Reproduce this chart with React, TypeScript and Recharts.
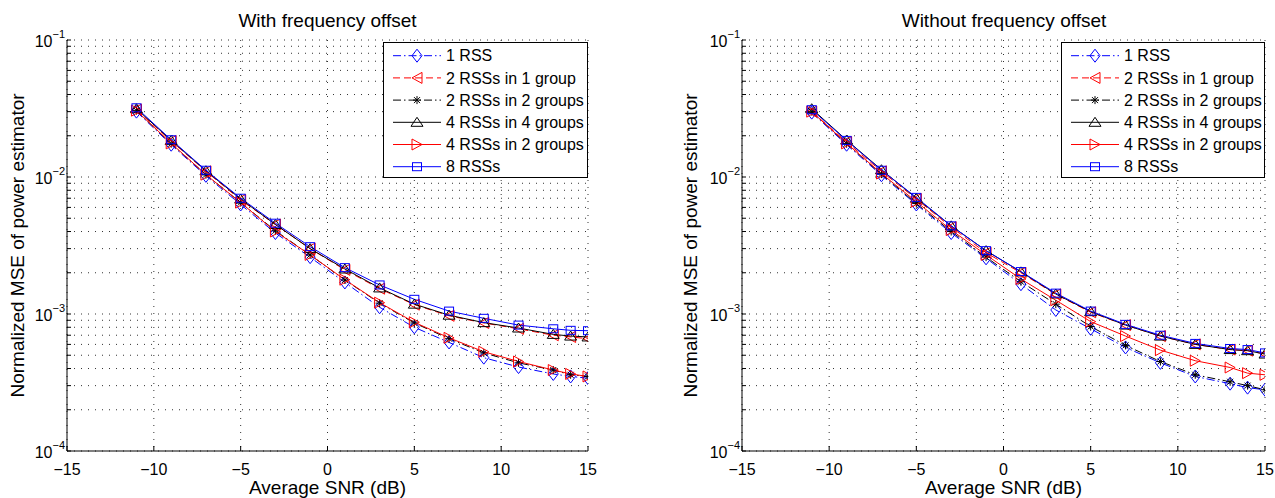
import React from 'react';
import { LineChart, Line, XAxis, YAxis, CartesianGrid, Legend } from 'recharts';

// ---------- data ----------
const snrDb = [-11, -9, -7, -5, -3, -1, 1, 3, 5, 7, 9, 11, 13, 14, 15];

const xTicks = [-15, -10, -5, 0, 5, 10, 15];
const yTicks = [
  0.0001, 0.0002, 0.0003, 0.0004, 0.0005, 0.0006, 0.0007, 0.0008, 0.0009,
  0.001, 0.002, 0.003, 0.004, 0.005, 0.006, 0.007, 0.008, 0.009,
  0.01, 0.02, 0.03, 0.04, 0.05, 0.06, 0.07, 0.08, 0.09,
  0.1,
];
const yMajor = [0.0001, 0.001, 0.01, 0.1];

const seriesLabels = [
  '1 RSS',
  '2 RSSs in 1 group',
  '2 RSSs in 2 groups',
  '4 RSSs in 4 groups',
  '4 RSSs in 2 groups',
  '8 RSSs',
];
const seriesKeys = ['oneRss', 'twoIn1', 'twoIn2', 'fourIn4', 'fourIn2', 'eight'];

// With frequency offset
const withOneRss = [0.0300, 0.0172, 0.0102, 0.0063, 0.0039, 0.0026, 0.00170, 0.00112, 0.00080, 0.00062, 0.00048, 0.00041, 0.000365, 0.00035, 0.00034];
const withTwoIn1 = [0.0310, 0.0183, 0.0110, 0.0068, 0.0045, 0.0030, 0.00210, 0.00153, 0.00117, 0.00097, 0.00086, 0.00078, 0.00070, 0.00068, 0.00066];
const withTwoIn2 = [0.0305, 0.0175, 0.0104, 0.0065, 0.00405, 0.0027, 0.00177, 0.00120, 0.00086, 0.00066, 0.00052, 0.00044, 0.00039, 0.00036, 0.00035];
const withFourIn4 = [0.0315, 0.0185, 0.0111, 0.0069, 0.0045, 0.0030, 0.00213, 0.00155, 0.00118, 0.00098, 0.000865, 0.00079, 0.00071, 0.00069, 0.00068];
const withFourIn2 = [0.0305, 0.0176, 0.0104, 0.0065, 0.0040, 0.0027, 0.00178, 0.00121, 0.00087, 0.00067, 0.00053, 0.00045, 0.00039, 0.000365, 0.00035];
const withEight = [0.0320, 0.0187, 0.0112, 0.0070, 0.0046, 0.0031, 0.00218, 0.00163, 0.00128, 0.00105, 0.00093, 0.00083, 0.00078, 0.00076, 0.000755];

// Without frequency offset
const withoutOneRss = [0.0295, 0.0172, 0.0103, 0.0063, 0.0039, 0.00255, 0.00165, 0.00107, 0.00078, 0.00057, 0.00044, 0.00035, 0.00031, 0.00029, 0.00028];
const withoutTwoIn1 = [0.0300, 0.0180, 0.0110, 0.0069, 0.0043, 0.0028, 0.00200, 0.00139, 0.00103, 0.00083, 0.00069, 0.00060, 0.00055, 0.00054, 0.00051];
const withoutTwoIn2 = [0.0300, 0.0175, 0.0105, 0.0064, 0.0040, 0.0026, 0.00172, 0.00118, 0.00081, 0.00059, 0.00045, 0.00036, 0.00032, 0.00030, 0.00028];
const withoutFourIn4 = [0.0315, 0.0186, 0.0113, 0.0070, 0.0044, 0.0029, 0.00203, 0.00140, 0.00104, 0.00083, 0.00069, 0.00060, 0.00055, 0.00054, 0.00051];
const withoutFourIn2 = [0.0300, 0.0176, 0.0106, 0.0066, 0.0041, 0.0027, 0.00180, 0.00126, 0.00088, 0.00069, 0.000545, 0.000456, 0.000407, 0.00037, 0.00036];
const withoutEight = [0.0310, 0.0185, 0.0112, 0.0071, 0.0044, 0.0029, 0.00204, 0.00142, 0.00105, 0.00084, 0.00070, 0.00061, 0.00056, 0.00055, 0.00052];

const buildRows = (cols: number[][]) =>
  snrDb.map((snr, i) => {
    const row: Record<string, number> = { snr };
    seriesKeys.forEach((k, j) => {
      row[k] = cols[j][i];
    });
    return row;
  });

const withData = buildRows([withOneRss, withTwoIn1, withTwoIn2, withFourIn4, withFourIn2, withEight]);
const withoutData = buildRows([withoutOneRss, withoutTwoIn1, withoutTwoIn2, withoutFourIn4, withoutFourIn2, withoutEight]);

// ---------- styles ----------
const FONT = '"Liberation Sans", Arial, Helvetica, sans-serif';
const DASH_DOT = '8 3 1.5 3';
const DASHED = '7 4';
const seriesStyle: Record<string, { color: string; dash?: string; marker: string }> = {
  oneRss: { color: '#0000ff', dash: DASH_DOT, marker: 'diamond' },
  twoIn1: { color: '#ff0000', dash: DASHED, marker: 'left' },
  twoIn2: { color: '#000000', dash: DASH_DOT, marker: 'star' },
  fourIn4: { color: '#000000', marker: 'up' },
  fourIn2: { color: '#ff0000', marker: 'right' },
  eight: { color: '#0000ff', marker: 'square' },
};

const Marker = ({ shape, cx, cy, color }: { shape: string; cx: number; cy: number; color: string }) => {
  if (cx == null || cy == null || isNaN(cx) || isNaN(cy)) return <g />;
  const common = { fill: 'none', stroke: color, strokeWidth: 1 };
  switch (shape) {
    case 'diamond':
      return <polygon points={`${cx},${cy - 6.5} ${cx + 5},${cy} ${cx},${cy + 6.5} ${cx - 5},${cy}`} {...common} />;
    case 'left':
      return <polygon points={`${cx - 5},${cy} ${cx + 5},${cy - 5.5} ${cx + 5},${cy + 5.5}`} {...common} />;
    case 'right':
      return <polygon points={`${cx + 5},${cy} ${cx - 5},${cy - 5.5} ${cx - 5},${cy + 5.5}`} {...common} />;
    case 'up':
      return <polygon points={`${cx},${cy - 5} ${cx + 6},${cy + 4} ${cx - 6},${cy + 4}`} {...common} />;
    case 'square':
      return <rect x={cx - 4.5} y={cy - 4} width={9} height={8} {...common} />;
    case 'star':
      return (
        <g {...common}>
          <line x1={cx - 4} y1={cy} x2={cx + 4} y2={cy} />
          <line x1={cx} y1={cy - 4} x2={cx} y2={cy + 4} />
          <line x1={cx - 3} y1={cy - 3} x2={cx + 3} y2={cy + 3} />
          <line x1={cx - 3} y1={cy + 3} x2={cx + 3} y2={cy - 3} />
        </g>
      );
    default:
      return <g />;
  }
};

const XTick = (props: any) => {
  const { x, y, payload } = props;
  const v = payload.value as number;
  const label = v < 0 ? '\u2212' + Math.abs(v) : String(v);
  return (
    <text x={x} y={y + 24} textAnchor="middle" fontSize={16} fontFamily={FONT} fill="#000">
      {label}
    </text>
  );
};

const YTick = (props: any) => {
  const { x, y, payload } = props;
  const v = payload.value as number;
  const isMajor = yMajor.some((m) => Math.abs(v / m - 1) < 1e-6);
  if (!isMajor) return <g />;
  const e = Math.round(Math.log10(v));
  return (
    <text x={x - 2} y={y + 7} textAnchor="end" fontSize={16} fontFamily={FONT} fill="#000">
      <tspan>10</tspan>
      <tspan dy={-9} fontSize={11}>{'\u2212' + Math.abs(e)}</tspan>
    </text>
  );
};

const LegendBox = ({ width }: { width: number }) => {
  const rowH = 22.2;
  return (
    <svg width={width} height={136} style={{ display: 'block' }}>
      <rect x={0.5} y={0.5} width={width - 1} height={135} fill="#fff" stroke="#000" strokeWidth={1} />
      {seriesKeys.map((k, i) => {
        const st = seriesStyle[k];
        const cy = 13.7 + i * rowH;
        return (
          <g key={k}>
            <line x1={10} y1={cy} x2={58} y2={cy} stroke={st.color} strokeWidth={1} strokeDasharray={st.dash} />
            <Marker shape={st.marker} cx={34} cy={cy} color={st.color} />
            <text x={63} y={cy + 5.7} fontSize={16} fontFamily={FONT} fill="#000">
              {seriesLabels[i]}
            </text>
          </g>
        );
      })}
    </svg>
  );
};

const Panel = ({ data, rightMargin, legendLeft, legendWidth }: { data: any[]; rightMargin: number; legendLeft: number; legendWidth: number }) => (
  <LineChart width={600} height={498} data={data} margin={{ top: 40, right: rightMargin, bottom: 0, left: 0 }}>
    <CartesianGrid stroke="#333" strokeDasharray="1 6" strokeWidth={1} />
    <XAxis
      dataKey="snr"
      type="number"
      domain={[-15, 15]}
      ticks={xTicks}
      interval={0}
      allowDataOverflow
      height={47}
      tick={<XTick />}
      tickSize={-5}
      tickMargin={5}
      stroke="#000"
      axisLine={{ stroke: '#000', strokeWidth: 1 }}
      tickLine={{ stroke: '#000' }}
    />
    <XAxis
      xAxisId="top"
      orientation="top"
      dataKey="snr"
      type="number"
      domain={[-15, 15]}
      ticks={xTicks}
      interval={0}
      allowDataOverflow
      height={0}
      tick={false}
      tickSize={-5}
      axisLine={{ stroke: '#000', strokeWidth: 1 }}
      tickLine={{ stroke: '#000' }}
    />
    <YAxis
      scale="log"
      type="number"
      domain={[0.0001, 0.1]}
      ticks={yTicks}
      interval={0}
      allowDataOverflow
      width={67}
      tick={<YTick />}
      tickSize={-4}
      tickMargin={4}
      axisLine={{ stroke: '#000', strokeWidth: 1 }}
      tickLine={{ stroke: '#000' }}
    />
    <YAxis
      yAxisId="right"
      orientation="right"
      scale="log"
      type="number"
      domain={[0.0001, 0.1]}
      ticks={yTicks}
      interval={0}
      allowDataOverflow
      width={0}
      tick={false}
      tickSize={-4}
      axisLine={{ stroke: '#000', strokeWidth: 1 }}
      tickLine={{ stroke: '#000' }}
    />
    {seriesKeys.map((k) => {
      const st = seriesStyle[k];
      return (
        <Line
          key={k}
          dataKey={k}
          name={k}
          stroke={st.color}
          strokeWidth={1}
          strokeDasharray={st.dash}
          isAnimationActive={false}
          activeDot={false}
          dot={(p: any) => <Marker key={`${k}-${p.index}`} shape={st.marker} cx={p.cx} cy={p.cy} color={st.color} />}
        />
      );
    })}
    <Legend
      layout="vertical"
      align="center"
      verticalAlign="middle"
      content={() => <LegendBox width={legendWidth} />}
      wrapperStyle={{ position: 'absolute', left: legendLeft, top: 42, width: legendWidth, height: 136 }}
    />
  </LineChart>
);

export default function App() {
  return (
    <div style={{ position: 'absolute', left: 0, top: 0, width: 1275, height: 498, background: '#fff', fontFamily: FONT }}>
      <div style={{ position: 'absolute', left: 0, top: 0 }}>
        <Panel data={withData} rightMargin={12} legendLeft={383} legendWidth={205} />
      </div>
      <div style={{ position: 'absolute', left: 675, top: 0 }}>
        <Panel data={withoutData} rightMargin={10} legendLeft={386} legendWidth={204} />
      </div>
      <svg width={1275} height={498} style={{ position: 'absolute', left: 0, top: 0, pointerEvents: 'none' }}>
        <g fontFamily={FONT} fill="#000">
          <text x={327.5} y={27} fontSize={19} textAnchor="middle">With frequency offset</text>
          <text x={1004} y={27} fontSize={19} textAnchor="middle">Without frequency offset</text>
          <text x={327.5} y={494} fontSize={19} textAnchor="middle">Average SNR (dB)</text>
          <text x={1003.5} y={494} fontSize={19} textAnchor="middle">Average SNR (dB)</text>
          <text x={24} y={245.5} fontSize={19} textAnchor="middle" transform="rotate(-90 24 245.5)">Normalized MSE of power estimator</text>
          <text x={697} y={245.5} fontSize={19} textAnchor="middle" transform="rotate(-90 697 245.5)">Normalized MSE of power estimator</text>
        </g>
      </svg>
    </div>
  );
}
